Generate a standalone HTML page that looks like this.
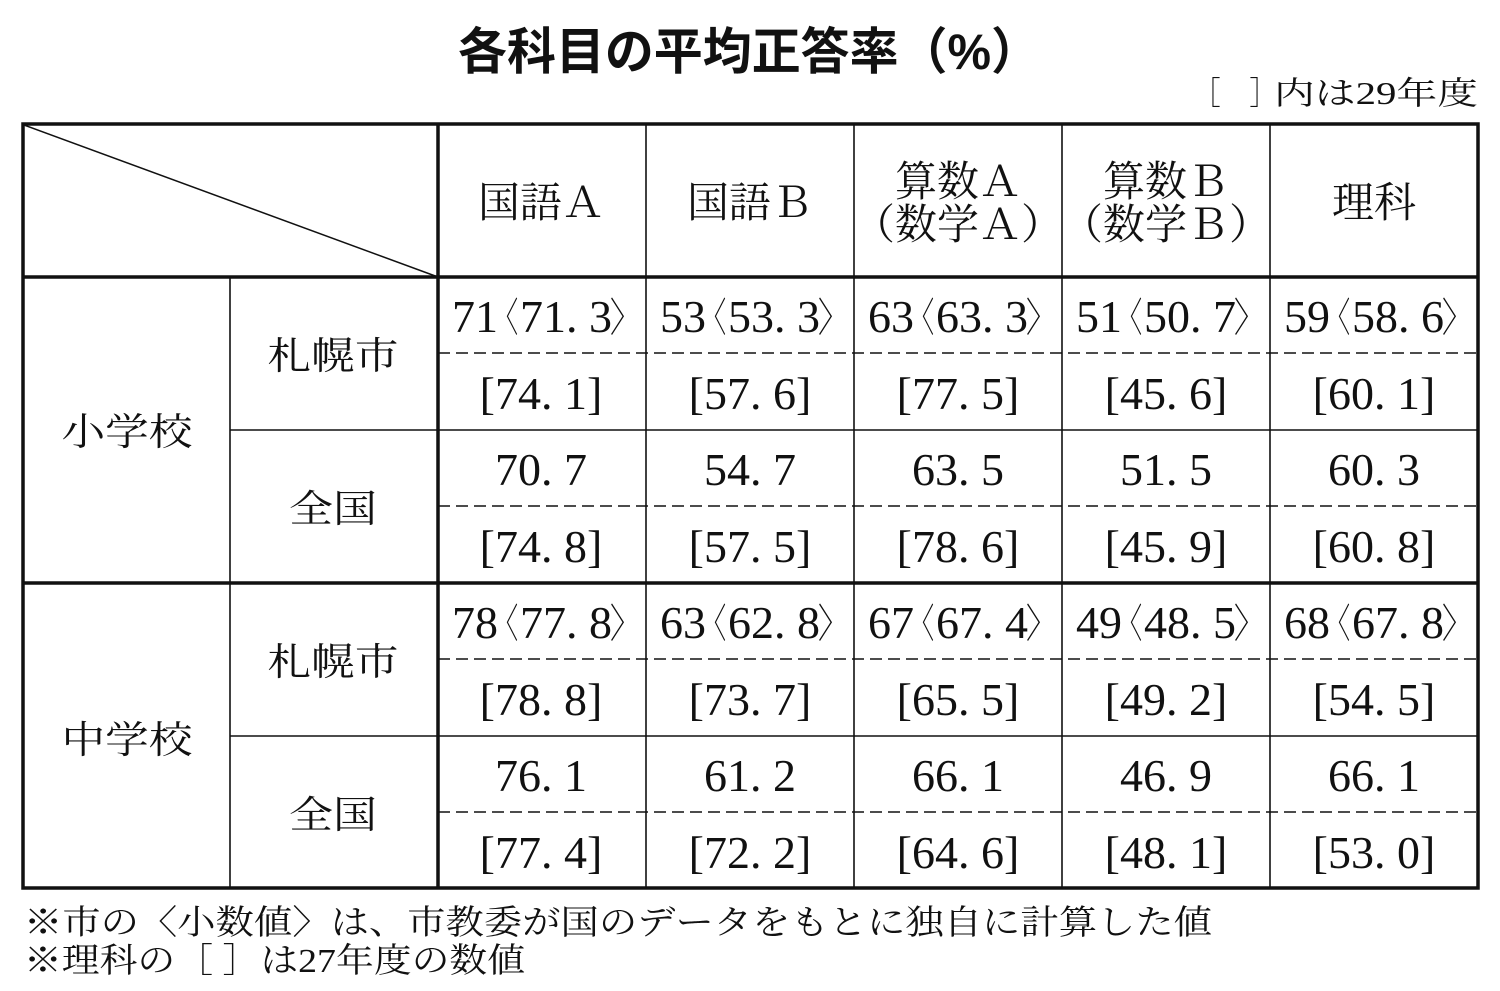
<!DOCTYPE html>
<html><head><meta charset="utf-8"><style>
html,body{margin:0;padding:0;background:#fff;}
svg{display:block}
.s{font-family:"Liberation Serif","Noto Serif CJK JP",serif;fill:#111;}
.n{font-family:"Liberation Serif",serif;fill:#111;font-size:46px;}
.b{font-family:"Noto Serif CJK JP",serif;fill:#111;font-size:40px;}
</style></head><body>
<svg width="1500" height="991" viewBox="0 0 1500 991" xmlns="http://www.w3.org/2000/svg">
<text x="458" y="69" font-family="'Liberation Sans','Noto Sans CJK JP',sans-serif" font-weight="bold" font-size="50" textLength="582" lengthAdjust="spacingAndGlyphs" fill="#111">各科目の平均正答率（%）</text>
<text class="s" x="1192" y="104" font-size="32" textLength="86" lengthAdjust="spacingAndGlyphs">［　］</text>
<text class="s" x="1274" y="104" font-size="32" textLength="204" lengthAdjust="spacingAndGlyphs">内は29年度</text>

<g stroke="#111" fill="none">
<rect x="23" y="124" width="1455" height="764" stroke-width="3.5"/>
<line x1="23" y1="277" x2="1478" y2="277" stroke-width="3.5"/>
<line x1="23" y1="583" x2="1478" y2="583" stroke-width="3.5"/>
<line x1="438" y1="124" x2="438" y2="888" stroke-width="3.5"/>
<line x1="24" y1="125" x2="438" y2="277" stroke-width="1.5"/>
<g stroke-width="1.6">
<line x1="230" y1="277" x2="230" y2="888"/>
<line x1="646" y1="124" x2="646" y2="888"/>
<line x1="854" y1="124" x2="854" y2="888"/>
<line x1="1062" y1="124" x2="1062" y2="888"/>
<line x1="1270" y1="124" x2="1270" y2="888"/>
<line x1="230" y1="430" x2="1478" y2="430"/>
<line x1="230" y1="736" x2="1478" y2="736"/>
</g>
<g stroke-width="1.6" stroke-dasharray="12 6">
<line x1="438" y1="353" x2="1478" y2="353"/>
<line x1="438" y1="506" x2="1478" y2="506"/>
<line x1="438" y1="659" x2="1478" y2="659"/>
<line x1="438" y1="812" x2="1478" y2="812"/>
</g>
</g>

<g class="s" font-size="42" text-anchor="middle">
<text x="541" y="217">国語Ａ</text>
<text x="750" y="217">国語Ｂ</text>
<text x="958" y="196">算数Ａ</text>
<text x="958" y="239">（数学Ａ）</text>
<text x="1166" y="196">算数Ｂ</text>
<text x="1166" y="239">（数学Ｂ）</text>
<text x="1374" y="217">理科</text>
</g>
<g class="s" font-size="38" text-anchor="middle">
<text x="333" y="369" textLength="131" lengthAdjust="spacingAndGlyphs">札幌市</text>
<text x="333" y="522" textLength="88" lengthAdjust="spacingAndGlyphs">全国</text>
<text x="127" y="445" textLength="131" lengthAdjust="spacingAndGlyphs">小学校</text>
<text x="333" y="675" textLength="131" lengthAdjust="spacingAndGlyphs">札幌市</text>
<text x="333" y="828" textLength="88" lengthAdjust="spacingAndGlyphs">全国</text>
<text x="127" y="753" textLength="131" lengthAdjust="spacingAndGlyphs">中学校</text>
</g>

<g>
<text class="n" x="452" y="332">71</text><text class="b" x="494" y="331" textLength="24" lengthAdjust="spacingAndGlyphs">〈</text><text class="n" x="520" y="332">71. 3</text><text class="b" x="610" y="331" textLength="30" lengthAdjust="spacingAndGlyphs">〉</text>
<text class="n" x="660" y="332">53</text><text class="b" x="702" y="331" textLength="24" lengthAdjust="spacingAndGlyphs">〈</text><text class="n" x="728" y="332">53. 3</text><text class="b" x="818" y="331" textLength="30" lengthAdjust="spacingAndGlyphs">〉</text>
<text class="n" x="868" y="332">63</text><text class="b" x="910" y="331" textLength="24" lengthAdjust="spacingAndGlyphs">〈</text><text class="n" x="936" y="332">63. 3</text><text class="b" x="1026" y="331" textLength="30" lengthAdjust="spacingAndGlyphs">〉</text>
<text class="n" x="1076" y="332">51</text><text class="b" x="1118" y="331" textLength="24" lengthAdjust="spacingAndGlyphs">〈</text><text class="n" x="1144" y="332">50. 7</text><text class="b" x="1234" y="331" textLength="30" lengthAdjust="spacingAndGlyphs">〉</text>
<text class="n" x="1284" y="332">59</text><text class="b" x="1326" y="331" textLength="24" lengthAdjust="spacingAndGlyphs">〈</text><text class="n" x="1352" y="332">58. 6</text><text class="b" x="1442" y="331" textLength="30" lengthAdjust="spacingAndGlyphs">〉</text>

<text class="n" x="452" y="638">78</text><text class="b" x="494" y="637" textLength="24" lengthAdjust="spacingAndGlyphs">〈</text><text class="n" x="520" y="638">77. 8</text><text class="b" x="610" y="637" textLength="30" lengthAdjust="spacingAndGlyphs">〉</text>
<text class="n" x="660" y="638">63</text><text class="b" x="702" y="637" textLength="24" lengthAdjust="spacingAndGlyphs">〈</text><text class="n" x="728" y="638">62. 8</text><text class="b" x="818" y="637" textLength="30" lengthAdjust="spacingAndGlyphs">〉</text>
<text class="n" x="868" y="638">67</text><text class="b" x="910" y="637" textLength="24" lengthAdjust="spacingAndGlyphs">〈</text><text class="n" x="936" y="638">67. 4</text><text class="b" x="1026" y="637" textLength="30" lengthAdjust="spacingAndGlyphs">〉</text>
<text class="n" x="1076" y="638">49</text><text class="b" x="1118" y="637" textLength="24" lengthAdjust="spacingAndGlyphs">〈</text><text class="n" x="1144" y="638">48. 5</text><text class="b" x="1234" y="637" textLength="30" lengthAdjust="spacingAndGlyphs">〉</text>
<text class="n" x="1284" y="638">68</text><text class="b" x="1326" y="637" textLength="24" lengthAdjust="spacingAndGlyphs">〈</text><text class="n" x="1352" y="638">67. 8</text><text class="b" x="1442" y="637" textLength="30" lengthAdjust="spacingAndGlyphs">〉</text>
</g>

<g class="n" text-anchor="middle">
<text x="541" y="409">[74. 1]</text>
<text x="750" y="409">[57. 6]</text>
<text x="958" y="409">[77. 5]</text>
<text x="1166" y="409">[45. 6]</text>
<text x="1374" y="409">[60. 1]</text>
<text x="541" y="485">70. 7</text>
<text x="750" y="485">54. 7</text>
<text x="958" y="485">63. 5</text>
<text x="1166" y="485">51. 5</text>
<text x="1374" y="485">60. 3</text>
<text x="541" y="562">[74. 8]</text>
<text x="750" y="562">[57. 5]</text>
<text x="958" y="562">[78. 6]</text>
<text x="1166" y="562">[45. 9]</text>
<text x="1374" y="562">[60. 8]</text>
<text x="541" y="715">[78. 8]</text>
<text x="750" y="715">[73. 7]</text>
<text x="958" y="715">[65. 5]</text>
<text x="1166" y="715">[49. 2]</text>
<text x="1374" y="715">[54. 5]</text>
<text x="541" y="791">76. 1</text>
<text x="750" y="791">61. 2</text>
<text x="958" y="791">66. 1</text>
<text x="1166" y="791">46. 9</text>
<text x="1374" y="791">66. 1</text>
<text x="541" y="868">[77. 4]</text>
<text x="750" y="868">[72. 2]</text>
<text x="958" y="868">[64. 6]</text>
<text x="1166" y="868">[48. 1]</text>
<text x="1374" y="868">[53. 0]</text>
</g>

<text class="s" x="24" y="934" font-size="34" textLength="1188" lengthAdjust="spacingAndGlyphs">※市の〈小数値〉は、市教委が国のデータをもとに独自に計算した値</text>
<text class="s" x="24" y="972" font-size="34" textLength="501" lengthAdjust="spacingAndGlyphs">※理科の［ ］は27年度の数値</text>
</svg>
</body></html>
